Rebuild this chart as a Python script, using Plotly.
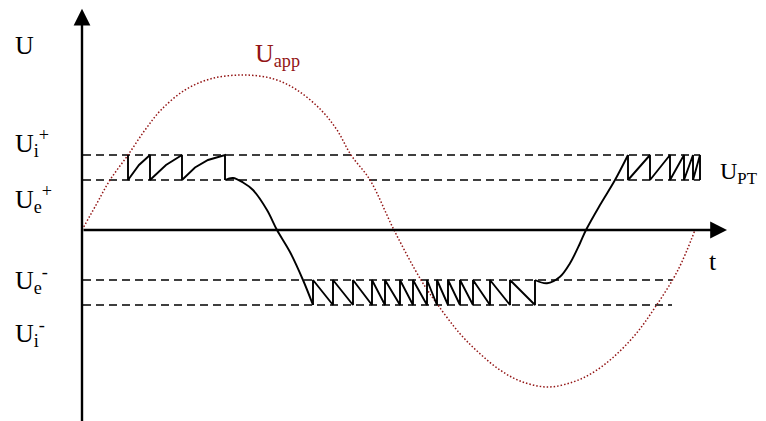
import plotly.graph_objects as go

# thresholds of the two-level comparator (volt units, arbitrary)
U_I_POS = 3.0
U_E_POS = 2.0
U_E_NEG = -2.0
U_I_NEG = -3.0

# applied voltage U_app (dotted sine)
app_t = [0, 14, 28, 46, 63, 79, 103, 129, 161, 191, 215, 239, 255, 269, 288,
         312, 339, 355, 378, 398, 418, 438, 465, 491, 511, 531, 553, 573, 596, 613]
app_u = [0, 1.0, 2.0, 3.0, 4.0, 4.8, 5.6, 6.05, 6.2, 6.05, 5.6, 4.8, 4.0, 3.0, 2.0,
         0, -2.0, -2.95, -4.15, -4.95, -5.6, -6.04, -6.28, -6.08, -5.7, -5.1, -4.2, -3.1, -1.6, 0]

# U_PT: first group of teeth between Ue+ and Ui+
teeth1_t = [46, 46, 57, 68, 68, 84, 100, 100, 113, 126, 143, 143]
teeth1_u = [3, 2, 2.6, 3, 2, 2.6, 3, 2, 2.5, 2.8, 3, 2]

# fall from the upper band to the lower band
fall_t = [143, 151, 161, 171, 185, 195, 208, 221, 231]
fall_u = [2, 2.08, 1.9, 1.6, 0.8, 0, -0.88, -2.0, -3]

# teeth between Ue- and Ui- (times of the jumps)
teeth2_jumps = [231, 251, 271, 290, 303, 318, 331, 345, 355, 366, 378, 391, 408, 428, 453]

# rise back to the upper band
rise_t = [453, 465, 478, 488, 498, 504, 518, 533, 546]
rise_u = [-2, -2.13, -1.87, -1.33, -0.53, 0, 1.0, 2.0, 3]

# last group of teeth (times of the jumps)
teeth3_jumps = [546, 568, 588, 602, 611, 618]

T_END = 645  # tip of the time axis
U_TOP = 8.85  # tip of the voltage axis
FONT = "Liberation Serif"
RED = "#931515"


def saw(jumps, top, bottom):
    # vertical jump to `top`, then ramp to `bottom` until the next jump
    ts, us = [], []
    for t in jumps:
        ts += [t, t]
        us += [bottom, top]
    return ts, us


fig = go.Figure()

# threshold lines
for u, t_end in [(U_I_POS, 618), (U_E_POS, 618), (U_E_NEG, 590), (U_I_NEG, 590)]:
    fig.add_trace(go.Scatter(
        x=[1, t_end], y=[u, u], mode="lines",
        line=dict(color="black", width=1.5, dash="8px,5px"),
    ))

fig.add_trace(go.Scatter(
    x=app_t, y=app_u, mode="lines", line_shape="spline",
    line=dict(color=RED, width=1.5, dash="1.5px,2px"),
))

black = dict(color="black", width=1.9)
fig.add_trace(go.Scatter(x=teeth1_t, y=teeth1_u, mode="lines", line=black))
fig.add_trace(go.Scatter(x=fall_t, y=fall_u, mode="lines", line_shape="spline", line=black))
t2, u2 = saw(teeth2_jumps, U_E_NEG, U_I_NEG)
fig.add_trace(go.Scatter(x=t2, y=u2, mode="lines", line=black))
fig.add_trace(go.Scatter(x=rise_t, y=rise_u, mode="lines", line_shape="spline", line=black))
t3, u3 = saw(teeth3_jumps, U_E_POS, U_I_POS)
fig.add_trace(go.Scatter(x=t3, y=u3, mode="lines", line=black))

# axes with arrow heads
arrow = dict(text="", showarrow=True, arrowhead=2, arrowsize=1.4, arrowwidth=2.4,
             arrowcolor="black", xref="x", yref="y", axref="x", ayref="y")
fig.add_annotation(x=0, y=U_TOP, ax=0, ay=-7.9, **arrow)
fig.add_annotation(x=T_END, y=0, ax=0, ay=0, **arrow)

labels = [
    ("U", -69, 7.4, "black"),
    ("U<sub>i</sub><sup>+</sup>", -69, 3.5, "black"),
    ("U<sub>e</sub><sup>+</sup>", -69, 1.25, "black"),
    ("U<sub>e</sub><sup>-</sup>", -69, -2.0, "black"),
    ("U<sub>i</sub><sup>-</sup>", -69, -4.1, "black"),
    ("U<sub>app</sub>", 171, 7.0, RED),
    ("U<sub>PT</sub>", 636, 2.3, "black"),
    ("t", 625, -1.24, "black"),
]
for text, x, y, color in labels:
    size = 24 if "PT" in text else 26
    fig.add_annotation(x=x, y=y, text=text, showarrow=False, xanchor="left",
                       yanchor="middle", font=dict(family=FONT, size=size, color=color))

# ranges include the 8px page margin around the plot div
fig.update_layout(
    width=766, height=421,
    margin=dict(l=0, r=0, t=0, b=0),
    showlegend=False,
    plot_bgcolor="white", paper_bgcolor="white",
    xaxis=dict(range=[-74, 692], visible=False, fixedrange=True),
    yaxis=dict(range=[-7.96, 8.88], visible=False, fixedrange=True),
)

fig.write_html("out.html")
